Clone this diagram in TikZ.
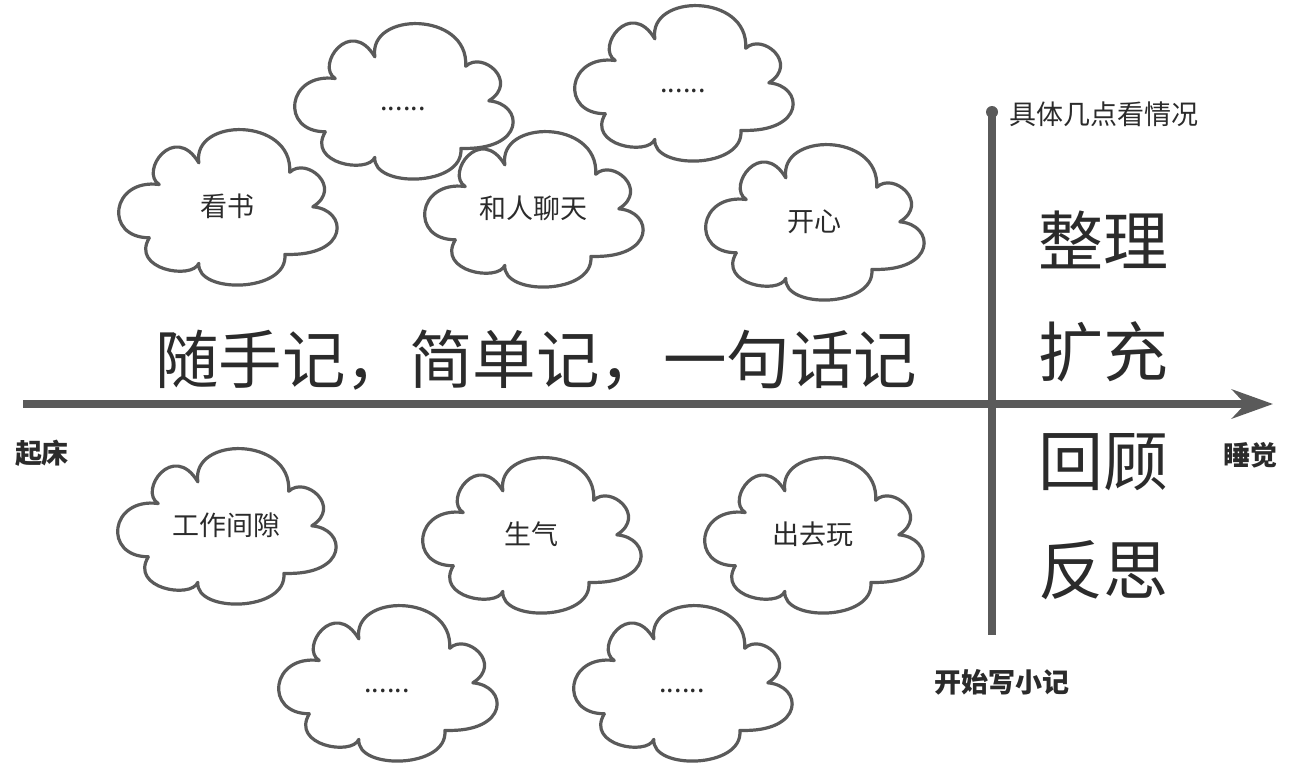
\documentclass[tikz,border=0pt]{standalone}
\usepackage{fontspec}
\setmainfont{Noto Sans CJK SC}
\usetikzlibrary{arrows.meta}
\definecolor{axisgray}{HTML}{5A5A5A}
\definecolor{txt}{HTML}{2B2B2B}
\newcommand\mycloud[5]{% name, left, top, text, (unused)
  \begin{scope}[shift={(#2,#3+157)}, xscale=220, yscale=-157]
    \draw[cloudline]
      (0.192,0.640) .. controls (0.10,0.72) and (0.26,1.04) .. (0.372,0.778)
      .. controls (0.34,1.07) and (0.80,1.07) .. (0.785,0.718)
      .. controls (0.86,0.82) and (1.03,0.62) .. (0.890,0.498)
      .. controls (1.05,0.48) and (1.06,0.18) .. (0.763,0.195)
      .. controls (0.78,-0.05) and (0.36,-0.06) .. (0.372,0.138)
      .. controls (0.34,0.03) and (0.06,0.10) .. (0.147,0.301)
      .. controls (-0.06,0.30) and (-0.03,0.68) .. (0.192,0.640) -- cycle;
  \end{scope}
  \node[cloudtext] (#1) at (#2+110,#3+78.5) {\vphantom{看}#4};
}
\begin{document}
\begin{tikzpicture}[x=1pt,y=-1pt,
  cloudline/.style={draw=axisgray, fill=white, line width=3.2pt, line join=round},
  cloudtext/.style={inner sep=0pt, text=txt, font=\fontsize{27}{32}\selectfont},
  axisline/.style={draw=axisgray, line width=8pt},
  bigtext/.style={inner sep=0pt, text=txt, font=\fontsize{63.5}{72}\selectfont},
  sidetext/.style={inner sep=0pt, text=txt, font=\fontsize{65}{74}\selectfont},
  boldlabel/.style={inner sep=0pt, text=txt, font=\fontsize{27}{32}\selectfont\bfseries},
  plainlabel/.style={inner sep=0pt, text=txt, font=\fontsize{27}{32}\selectfont}]
\useasboundingbox (0,0) rectangle (1296,766);
\fill[white] (0,0) rectangle (1296,766);

% clouds
\mycloud{c1}{117}{128}{看书}{}
\mycloud{c2}{293}{22}{......}{}
\mycloud{c3}{423}{130}{和人聊天}{}
\mycloud{c4}{573}{4}{......}{}
\mycloud{c5}{704}{143}{开心}{}
\mycloud{c6}{116}{447}{工作间隙}{}
\mycloud{c7}{421}{456}{生气}{}
\mycloud{c8}{703}{456}{出去玩}{}
\mycloud{c9}{277}{604}{......}{}
\mycloud{c10}{572}{604}{......}{}

% axes
\coordinate (hstart) at (23,404);
\coordinate (hend) at (1273,404);
\draw[axisline, -{Stealth[length=41pt, width=29pt]}] (hstart) -- (hend);
\node[circle, fill=axisgray, inner sep=0pt, minimum size=12pt] (vtop) at (992,112) {};
\coordinate (vbot) at (992,635);
\draw[axisline] (vtop.center) -- (vbot);

% texts
\node[bigtext] (main) at (536,360) {随手记，简单记，一句话记};
\node[sidetext] (s1) at (1103,240) {整理};
\node[sidetext] (s2) at (1103,352) {扩充};
\node[sidetext] (s3) at (1103,462) {回顾};
\node[sidetext] (s4) at (1103,570) {反思};
\node[boldlabel] (getup) at (42,453) {起床};
\node[boldlabel] (sleep) at (1250,455) {睡觉};
\node[boldlabel] (startwrite) at (1002,682) {开始写小记};
\node[plainlabel] (when) at (1104,114) {具体几点看情况};
\end{tikzpicture}
\end{document}
